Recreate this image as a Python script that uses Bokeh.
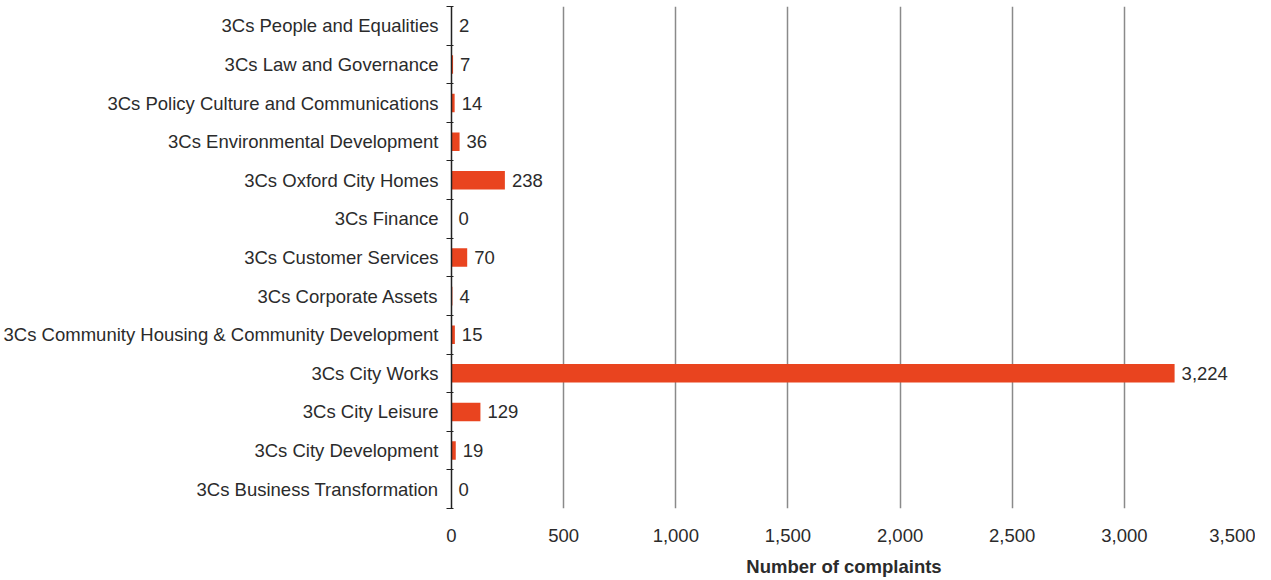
from bokeh.plotting import figure
from bokeh.models import ColumnDataSource, Range1d, FixedTicker, NumeralTickFormatter
from bokeh.embed import file_html
from bokeh.resources import INLINE
from bokeh.core.properties import value

# Data (bottom to top)
categories = [
    "3Cs Business Transformation",
    "3Cs City Development",
    "3Cs City Leisure",
    "3Cs City Works",
    "3Cs Community Housing & Community Development",
    "3Cs Corporate Assets",
    "3Cs Customer Services",
    "3Cs Finance",
    "3Cs Oxford City Homes",
    "3Cs Environmental Development",
    "3Cs Policy Culture and Communications",
    "3Cs Law and Governance",
    "3Cs People and Equalities",
]
complaints = [0, 19, 129, 3224, 15, 4, 70, 0, 238, 36, 14, 7, 2]
x_ticks = [0, 500, 1000, 1500, 2000, 2500, 3000, 3500]

FONT = "Liberation Sans"
FS = "18.5px"
TXT = "#2b2b2b"
BAR = "#E9441F"

pos = list(range(len(categories)))
src = ColumnDataSource(dict(
    y=pos,
    v=complaints,
    lab=[f"{c:,}" for c in complaints],
))

p = figure(width=1255, height=579, output_backend="svg", toolbar_location=None,
           x_range=Range1d(0, 3500), y_range=Range1d(-0.5, len(categories) - 0.5),
           min_border_top=6, min_border_left=0, min_border_right=19, min_border_bottom=0)
p.outline_line_color = None

p.hbar(y="y", right="v", left=0, height=0.48, source=src, color=BAR, line_color=None)
p.text(x="v", y="y", text="lab", source=src, x_offset=7, text_baseline="middle",
       text_align="left", text_font=value(FONT), text_font_size=FS, text_color=TXT)

# x axis
p.xaxis.ticker = FixedTicker(ticks=x_ticks)
p.xaxis.formatter = NumeralTickFormatter(format="0,0")
p.xaxis.axis_line_color = None
p.xaxis.major_tick_line_color = None
p.xaxis.minor_tick_line_color = None
p.xaxis.major_label_standoff = 14
p.xaxis.major_label_text_font = FONT
p.xaxis.major_label_text_font_size = FS
p.xaxis.major_label_text_color = TXT
p.xaxis.axis_label = "Number of complaints"
p.xaxis.axis_label_text_font = FONT
p.xaxis.axis_label_text_font_size = FS
p.xaxis.axis_label_text_font_style = "bold"
p.xaxis.axis_label_text_color = TXT
p.xaxis.axis_label_standoff = 11

# y axis
boundaries = [i - 0.5 for i in range(len(categories) + 1)]
p.yaxis.ticker = FixedTicker(ticks=pos, minor_ticks=boundaries)
p.yaxis.major_label_overrides = {i: c for i, c in enumerate(categories)}
p.yaxis.major_tick_line_color = None
p.yaxis.minor_tick_line_color = "#222222"
p.yaxis.minor_tick_out = 5
p.yaxis.minor_tick_in = 2
p.yaxis.axis_line_color = "#222222"
p.yaxis.axis_line_width = 1.5
p.yaxis.major_label_standoff = 7
p.yaxis.major_label_text_font = FONT
p.yaxis.major_label_text_font_size = FS
p.yaxis.major_label_text_color = TXT

# grid
p.xgrid.ticker = FixedTicker(ticks=x_ticks)
p.xgrid.grid_line_color = "#8a8a8a"
p.xgrid.grid_line_width = 1.5
p.ygrid.grid_line_color = None

open("out.html", "w").write(file_html(p, INLINE))
